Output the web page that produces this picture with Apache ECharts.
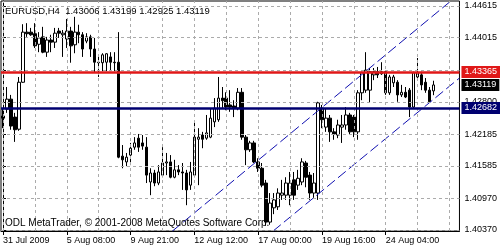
<!DOCTYPE html>
<html><head><meta charset="utf-8">
<script src="https://cdn.jsdelivr.net/npm/echarts@6/dist/echarts.min.js"></script>
<style>html,body{margin:0;padding:0;background:#fff}#c{width:500px;height:250px}</style>
</head><body><div id="c"></div>
<script>
const symbol = 'EURUSD';
const timeframe = 'H4';
const opens = [1.4253,1.4266,1.4285,1.4251,1.4228,1.4317,1.4412,1.4412,1.4409,1.4389,
1.4403,1.4374,1.4397,1.4393,1.4414,1.4407,1.4399,1.4414,1.4388,1.4412,
1.4407,1.4395,1.4403,1.4380,1.4355,1.4354,1.4355,1.4365,1.4355,1.4355,
1.4177,1.4166,1.4179,1.4194,1.4211,1.4202,1.4194,1.4128,1.4145,1.4126,
1.4141,1.4164,1.4166,1.4137,1.4151,1.4147,1.4145,1.4122,1.4141,1.4209,
1.4217,1.4211,1.4213,1.4242,1.4246,1.4287,1.4287,1.4274,1.4272,1.4268,
1.4298,1.4213,1.4189,1.4202,1.4166,1.4154,1.4126,1.4052,1.4079,1.4081,
1.4103,1.4103,1.4103,1.4132,1.4122,1.4128,1.4164,1.4141,1.4107,1.4107,
1.4268,1.4232,1.4249,1.4223,1.4217,1.4232,1.4236,1.4255,1.4251,1.4223,
1.4297,1.4302,1.4302,1.4331,1.4337,1.4333,1.4337,1.4297,1.4316,1.4317,
1.4293,1.4298,1.4302,1.4270,1.4327,1.4331,1.4317,1.4302,1.43006];
const closes = [1.4249,1.4285,1.4234,1.4227,1.4317,1.4412,1.4409,1.4407,1.4386,1.4401,
1.4374,1.4397,1.4393,1.4410,1.4410,1.4410,1.4414,1.4386,1.4412,1.4407,
1.4380,1.4403,1.4380,1.4355,1.4354,1.4369,1.4371,1.4355,1.4354,1.4175,
1.4170,1.4175,1.4192,1.4202,1.4194,1.4196,1.4141,1.4145,1.4126,1.4147,
1.4164,1.4166,1.4137,1.4151,1.4147,1.4145,1.4113,1.4147,1.4213,1.4213,
1.4209,1.4221,1.4249,1.4268,1.4287,1.4282,1.4270,1.4270,1.4268,1.4298,
1.4213,1.4189,1.4202,1.4166,1.4154,1.4122,1.4052,1.4088,1.4094,1.4107,
1.4107,1.4126,1.4126,1.4103,1.4135,1.4166,1.4137,1.4107,1.4126,1.4278,
1.4246,1.4249,1.4223,1.4219,1.4236,1.4236,1.4255,1.4223,1.4223,1.4297,
1.4335,1.4340,1.4337,1.4337,1.4331,1.4337,1.4297,1.4327,1.4327,1.4293,
1.4298,1.4289,1.4270,1.4335,1.4335,1.4312,1.4302,1.4280,1.43119];
const highs = [1.4268,1.4308,1.4293,1.4259,1.4327,1.4427,1.4429,1.4420,1.4429,1.4412,
1.4422,1.4403,1.4407,1.4420,1.4420,1.4416,1.4437,1.4422,1.4441,1.4426,
1.4412,1.4410,1.4407,1.4401,1.4365,1.4372,1.4372,1.4374,1.4374,1.4412,
1.4198,1.4183,1.4202,1.4213,1.4219,1.4217,1.4213,1.4154,1.4151,1.4160,
1.4194,1.4183,1.4179,1.4170,1.4160,1.4164,1.4151,1.4166,1.4242,1.4230,
1.4223,1.4255,1.4268,1.4287,1.4327,1.4308,1.4298,1.4302,1.4283,1.4306,
1.4306,1.4217,1.4206,1.4206,1.4173,1.4164,1.4132,1.4107,1.4107,1.4116,
1.4132,1.4137,1.4147,1.4147,1.4151,1.4173,1.4168,1.4147,1.4145,1.4280,
1.4274,1.4268,1.4255,1.4230,1.4246,1.4255,1.4270,1.4259,1.4255,1.4302,
1.4337,1.4374,1.4344,1.4344,1.4346,1.4355,1.4340,1.4331,1.4331,1.4321,
1.4312,1.4308,1.4306,1.4337,1.4363,1.4337,1.4325,1.4308,1.43199];
const lows = [1.4230,1.4259,1.4227,1.4204,1.4225,1.4316,1.4403,1.4405,1.4382,1.4374,
1.4372,1.4365,1.4374,1.4382,1.4401,1.4365,1.4382,1.4354,1.4372,1.4391,
1.4365,1.4391,1.4365,1.4335,1.4327,1.4338,1.4338,1.4338,1.4338,1.4173,
1.4154,1.4158,1.4160,1.4189,1.4185,1.4189,1.4126,1.4103,1.4120,1.4122,
1.4137,1.4141,1.4135,1.4135,1.4141,1.4113,1.4084,1.4113,1.4137,1.4122,
1.4192,1.4208,1.4211,1.4232,1.4242,1.4268,1.4264,1.4261,1.4251,1.4264,
1.4208,1.4160,1.4185,1.4164,1.4147,1.4118,1.4045,1.4047,1.4067,1.4075,
1.4094,1.4094,1.4084,1.4094,1.4113,1.4122,1.4118,1.4094,1.4098,1.4094,
1.4230,1.4223,1.4204,1.4208,1.4211,1.4202,1.4227,1.4217,1.4213,1.4208,
1.4283,1.4297,1.4278,1.4321,1.4325,1.4331,1.4293,1.4293,1.4308,1.4280,
1.4289,1.4287,1.4251,1.4268,1.4321,1.4302,1.4297,1.4278,1.42925];
const xTickLabels = ['31 Jul 2009','5 Aug 08:00','9 Aug 21:00','12 Aug 12:00','17 Aug 00:00','19 Aug 16:00','24 Aug 04:00'];
const yTicks = [1.40370,1.40970,1.41585,1.42185,1.42800,1.43400,1.44015,1.44615];
const resistance = 1.43365;
const support = 1.42682;
const channelUpper = [[42.5,1.4035],[112.5,1.4472]];
const channelLower = [[67.75,1.4035],[114.5,1.4325]];
const copyright = 'ODL MetaTrader, \u00a9 2001-2008 MetaQuotes Software Corp.';

const SLOTS = 115, STEP = 16, GRIDSTEP = 8;
const Y_MIN = 1.40351, Y_MAX = 1.44710;
const FONT = '"Liberation Sans", Arial, sans-serif';
const last = opens.length - 1;
const categories = Array.from({length: SLOTS}, (_, i) => (i % STEP === 0 && xTickLabels[i / STEP]) ? xTickLabels[i / STEP] : '');
const candles = opens.map((o, i) => [o, closes[i], lows[i], highs[i]]);
const fmt = v => Number(v).toFixed(5);
const header = symbol + ',' + timeframe + '  ' + [opens[last], highs[last], lows[last], closes[last]].map(fmt).join(' ');
const showTick = (i) => categories[i] !== '';

const gridStyle = {color: '#ababab', type: [3, 3], width: 1, opacity: 1};
const vLines = [], hLines = [];
for (let i = 0; i < SLOTS; i += GRIDSTEP) vLines.push([{coord: [i, Y_MIN]}, {coord: [i, Y_MAX]}]);
yTicks.forEach(v => hLines.push([{coord: [-0.5, v]}, {coord: [SLOTS - 0.5, v]}]));

function lvlLabel(bg) {
  return {show: true, position: 'end', distance: 2, formatter: p => fmt(p.value), color: '#fff',
    backgroundColor: bg, padding: [2, 3, 1, 3], fontSize: 9, fontFamily: FONT};
}
const hidden = {width: 0, color: 'rgba(0,0,0,0)'};

const chart = echarts.init(document.getElementById('c'), null, {renderer: 'canvas'});
chart.setOption({
  animation: false,
  backgroundColor: '#fff',
  textStyle: {fontFamily: FONT},
  grid: {left: 1, top: 1, width: 460, height: 230, show: true, borderColor: '#000', borderWidth: 1},
  xAxis: [
    {type: 'category', data: categories, boundaryGap: true, position: 'bottom',
      axisLine: {show: true, lineStyle: {color: '#000'}},
      axisTick: {show: true, alignWithLabel: true, interval: showTick, length: 4, lineStyle: {color: '#000'}},
      axisLabel: {show: true, interval: showTick, align: 'left', margin: 5, fontSize: 9, color: '#000', fontFamily: FONT},
      splitLine: {show: false}},
    {type: 'value', min: -0.5, max: SLOTS - 0.5, show: false}
  ],
  yAxis: {type: 'value', position: 'right', min: Y_MIN, max: Y_MAX,
    axisLine: {show: true, lineStyle: {color: '#000'}},
    axisTick: {show: true, length: 3, customValues: yTicks, lineStyle: {color: '#000'}},
    axisLabel: {show: true, customValues: yTicks, formatter: fmt, fontSize: 9, color: '#000', margin: 5, fontFamily: FONT},
    splitLine: {show: false}},
  graphic: [
    {type: 'text', left: 5, top: 6, z: 100, style: {text: header, fontSize: 9.5, fontFamily: FONT, fill: '#000'}},
    {type: 'text', left: 5, top: 218, z: 100, style: {text: copyright, fontSize: 10, fontFamily: FONT, fill: '#000'}}
  ],
  series: [
    {type: 'scatter', xAxisIndex: 1, z: 2, silent: true, symbolSize: 0, data: channelUpper,
      markLine: {silent: true, symbol: 'none', precision: 6, animation: false, label: {show: false},
        lineStyle: gridStyle, data: vLines.concat(hLines)}},
    {type: 'candlestick', xAxisIndex: 0, data: candles, barWidth: 3, z: 3,
      itemStyle: {color: '#fff', color0: '#000', borderColor: '#000', borderColor0: '#000', borderWidth: 1}},
    {type: 'line', xAxisIndex: 1, data: channelUpper, z: 4, symbol: 'none', silent: true,
      lineStyle: {color: '#1010b0', width: 1, type: [10, 4]}},
    {type: 'line', xAxisIndex: 1, data: channelLower, z: 4, symbol: 'none', silent: true,
      lineStyle: {color: '#1010b0', width: 1, type: [10, 4]}},
    {type: 'line', xAxisIndex: 0, data: closes, z: 6, silent: true, symbol: 'none', lineStyle: hidden,
      markLine: {silent: true, symbol: 'none', precision: 6, animation: false, data: [
        {yAxis: resistance, lineStyle: {color: '#e01818', width: 2.5, type: 'solid', opacity: 1}, label: lvlLabel('#e01818')},
        {yAxis: support, lineStyle: {color: '#000070', width: 2.5, type: 'solid', opacity: 1}, label: lvlLabel('#000070')},
        {yAxis: closes[last], lineStyle: {color: 'rgba(0,0,0,0)', width: 0}, label: lvlLabel('#000')}
      ]}}
  ]
});
</script></body></html>
